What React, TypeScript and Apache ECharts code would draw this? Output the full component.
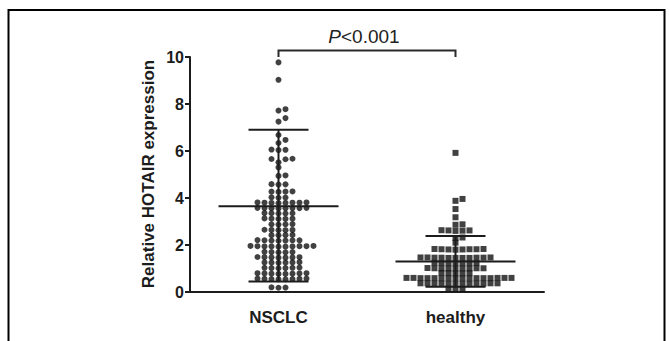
import React, { useEffect, useRef } from "react";
import * as echarts from "echarts";

// ---------- data ----------
const categories = ["NSCLC", "healthy"];

const nsclcValues = [
  9.77, 9.03, 7.78, 7.72, 7.4, 7.25, 6.68, 6.47, 6.34,
  6.06, 6.05, 6.04,
  5.67, 5.66, 5.65, 5.52, 5.3,
  4.96, 4.94,
  4.59, 4.58, 4.57,
  4.28, 4.27, 4.27, 4.26,
  4.03, 4.02, 4.01,
  3.81, 3.81, 3.8, 3.8, 3.8, 3.79, 3.79, 3.78,
  3.58, 3.58, 3.57, 3.57, 3.57, 3.56, 3.56, 3.55,
  3.36, 3.35, 3.35, 3.34, 3.34,
  3.13, 3.12, 3.12, 3.11, 3.11,
  2.89, 2.88, 2.88, 2.87,
  2.65, 2.64, 2.64, 2.63, 2.63,
  2.43, 2.42, 2.42, 2.41,
  2.21, 2.2, 2.2, 2.2, 2.19, 2.19, 2.18,
  1.96, 1.96, 1.95, 1.95, 1.95, 1.94, 1.94, 1.94, 1.93, 1.93,
  1.71, 1.7, 1.7, 1.69, 1.69,
  1.49, 1.48, 1.48, 1.47, 1.47, 1.46, 1.46,
  1.27, 1.26, 1.26, 1.25, 1.25, 1.24,
  1.04, 1.03, 1.03, 1.02, 1.02, 1.01,
  0.8, 0.8, 0.79, 0.79, 0.78, 0.78, 0.77, 0.77,
  0.57, 0.57, 0.56, 0.56, 0.55, 0.55, 0.54, 0.54,
  0.2, 0.19, 0.18,
];

const healthyValues = [
  5.92,
  3.96, 3.88,
  3.53,
  3.18,
  2.88, 2.86,
  2.63, 2.62, 2.62, 2.61, 2.6,
  2.32, 2.3,
  2.1,
  1.83, 1.83, 1.82, 1.82, 1.82, 1.81, 1.81, 1.8,
  1.47, 1.47, 1.47, 1.46, 1.46, 1.46, 1.46, 1.45, 1.45, 1.45, 1.45,
  1.24, 1.23, 1.23, 1.22, 1.22, 1.22, 1.22,
  1.02, 1.01, 1.01, 1.01, 1.0, 1.0, 1.0, 1.0, 1.0,
  0.81, 0.8, 0.8, 0.79, 0.79,
  0.6, 0.6, 0.6, 0.6, 0.6, 0.59, 0.59, 0.59, 0.59, 0.59, 0.59, 0.58, 0.58, 0.58, 0.58, 0.58,
  0.37, 0.37, 0.37, 0.37, 0.36, 0.36, 0.36, 0.36, 0.35, 0.35, 0.35, 0.35,
  0.14, 0.13, 0.12,
];

const meanValues = [3.65, 1.3];
const sdUpper = [6.9, 2.38];
const sdLower = [0.45, 0.22];

const yMin = 0;
const yMax = 10;
const yInterval = 2;

const yTitle = "Relative HOTAIR expression";
const pValueText = "P<0.001";
const bracketBase = 10;
const bracketTop = 10.28;

// ---------- layout ----------
const W = 670;
const H = 341;
const GRID_LEFT = 190;
const GRID_RIGHT = 126;
const GRID_TOP = 57;
const GRID_BOTTOM = 49;
const X_MIN = 0.5;
const X_MAX = 2.5;
const PX_PER_X = (W - GRID_LEFT - GRID_RIGHT) / (X_MAX - X_MIN);
const PX_PER_Y = (H - GRID_TOP - GRID_BOTTOM) / (yMax - yMin);

const INK = "#1c1c1c";
const DOT = "#111";
const FONT = "'Liberation Sans', Arial, Helvetica, sans-serif";

// beeswarm layout: columns of fixed step, stacked with a minimum vertical gap
function swarm(values: number[], center: number, stepPx: number, gapPx: number) {
  const order = values.map((_, i) => i).sort((a, b) => values[a] - values[b]);
  const placed: { col: number; y: number }[] = [];
  const out: number[][] = new Array(values.length);
  for (const i of order) {
    const y = values[i] * PX_PER_Y;
    for (let k = 0; k < 200; k++) {
      const col = k === 0 ? 0 : k % 2 === 1 ? (k + 1) / 2 : -k / 2;
      if (!placed.some((p) => p.col === col && Math.abs(p.y - y) < gapPx)) {
        placed.push({ col, y });
        out[i] = [center + (col * stepPx) / PX_PER_X, values[i]];
        break;
      }
    }
  }
  return out;
}

export default function App() {
  const ref = useRef<HTMLDivElement>(null);

  useEffect(() => {
    if (!ref.current) return;
    const chart = echarts.init(ref.current, undefined, { renderer: "svg" });

    const nsclcPts = swarm(nsclcValues, 1, 7, 4.2);
    const healthyPts = swarm(healthyValues, 2, 7, 4.2);

    const option: any = {
      animation: false,
      backgroundColor: "#fff",
      grid: {
        left: GRID_LEFT,
        right: GRID_RIGHT,
        top: GRID_TOP,
        bottom: GRID_BOTTOM,
        containLabel: false,
      },
      xAxis: [
        {
          type: "category",
          data: categories,
          boundaryGap: true,
          axisLine: { lineStyle: { color: INK, width: 2 } },
          axisTick: { alignWithLabel: true, length: 6, lineStyle: { color: INK, width: 2 } },
          axisLabel: {
            color: INK,
            fontFamily: FONT,
            fontWeight: "bold",
            fontSize: 17,
            margin: 17,
          },
          splitLine: { show: false },
        },
        {
          type: "value",
          min: X_MIN,
          max: X_MAX,
          show: false,
        },
      ],
      yAxis: {
        type: "value",
        min: yMin,
        max: yMax,
        interval: yInterval,
        axisLine: { show: true, lineStyle: { color: INK, width: 2 } },
        axisTick: { show: true, length: 5, lineStyle: { color: INK, width: 2 } },
        axisLabel: {
          color: INK,
          fontFamily: FONT,
          fontWeight: "bold",
          fontSize: 16,
          margin: 6,
        },
        splitLine: { show: false },
      },
      series: [
        {
          type: "scatter",
          xAxisIndex: 1,
          symbol: "circle",
          symbolSize: 6,
          itemStyle: { color: DOT },
          data: nsclcPts,
          z: 2,
        },
        {
          type: "scatter",
          xAxisIndex: 1,
          symbol: "rect",
          symbolSize: 6,
          itemStyle: { color: DOT },
          data: healthyPts,
          z: 2,
        },
        {
          type: "custom",
          xAxisIndex: 1,
          z: 5,
          data: categories.map((_, i) => [i + 1, meanValues[i], sdUpper[i], sdLower[i]]),
          renderItem: (_params: any, api: any) => {
            const x = api.value(0);
            const pm = api.coord([x, api.value(1)]);
            const pu = api.coord([x, api.value(2)]);
            const pl = api.coord([x, api.value(3)]);
            const style = { stroke: INK, lineWidth: 2 };
            return {
              type: "group",
              children: [
                { type: "line", shape: { x1: pm[0] - 60, y1: pm[1], x2: pm[0] + 60, y2: pm[1] }, style },
                { type: "line", shape: { x1: pu[0] - 30, y1: pu[1], x2: pu[0] + 30, y2: pu[1] }, style },
                { type: "line", shape: { x1: pl[0] - 30, y1: pl[1], x2: pl[0] + 30, y2: pl[1] }, style },
                { type: "line", shape: { x1: pu[0], y1: pu[1], x2: pl[0], y2: pl[1] }, style },
              ],
            };
          },
        },
        {
          type: "custom",
          xAxisIndex: 1,
          z: 5,
          clip: false,
          data: [[1, 2, bracketBase, bracketTop]],
          renderItem: (_params: any, api: any) => {
            const a0 = api.coord([api.value(0), api.value(2)]);
            const a1 = api.coord([api.value(0), api.value(3)]);
            const b1 = api.coord([api.value(1), api.value(3)]);
            const b0 = api.coord([api.value(1), api.value(2)]);
            return {
              type: "polyline",
              shape: { points: [a0, a1, b1, b0] },
              style: { stroke: "#2a2a2a", lineWidth: 2, fill: null },
            };
          },
        },
      ],
      graphic: [
        {
          type: "rect",
          shape: { x: 8.5, y: 10, width: 656, height: 400 },
          style: { fill: null, stroke: "#000", lineWidth: 2 },
          silent: true,
        },
        {
          type: "text",
          x: 148,
          y: 174,
          rotation: Math.PI / 2,
          style: {
            text: yTitle,
            fill: INK,
            font: `bold 17px ${FONT}`,
            textAlign: "center",
            textVerticalAlign: "middle",
          },
        },
        {
          type: "text",
          x: 364,
          y: 36,
          style: {
            text: "{i|" + pValueText.slice(0, 1) + "}" + pValueText.slice(1),
            fill: "#222",
            fontFamily: FONT,
            fontSize: 19,
            textAlign: "center",
            textVerticalAlign: "middle",
            rich: {
              i: { fontStyle: "italic", fontFamily: FONT, fontSize: 19, fill: "#222" },
            },
          },
        },
      ],
    };

    chart.setOption(option);
    return () => chart.dispose();
  }, []);

  return (
    <div
      ref={ref}
      style={{ position: "fixed", left: 0, top: 0, width: W, height: H, background: "#fff" }}
    />
  );
}
